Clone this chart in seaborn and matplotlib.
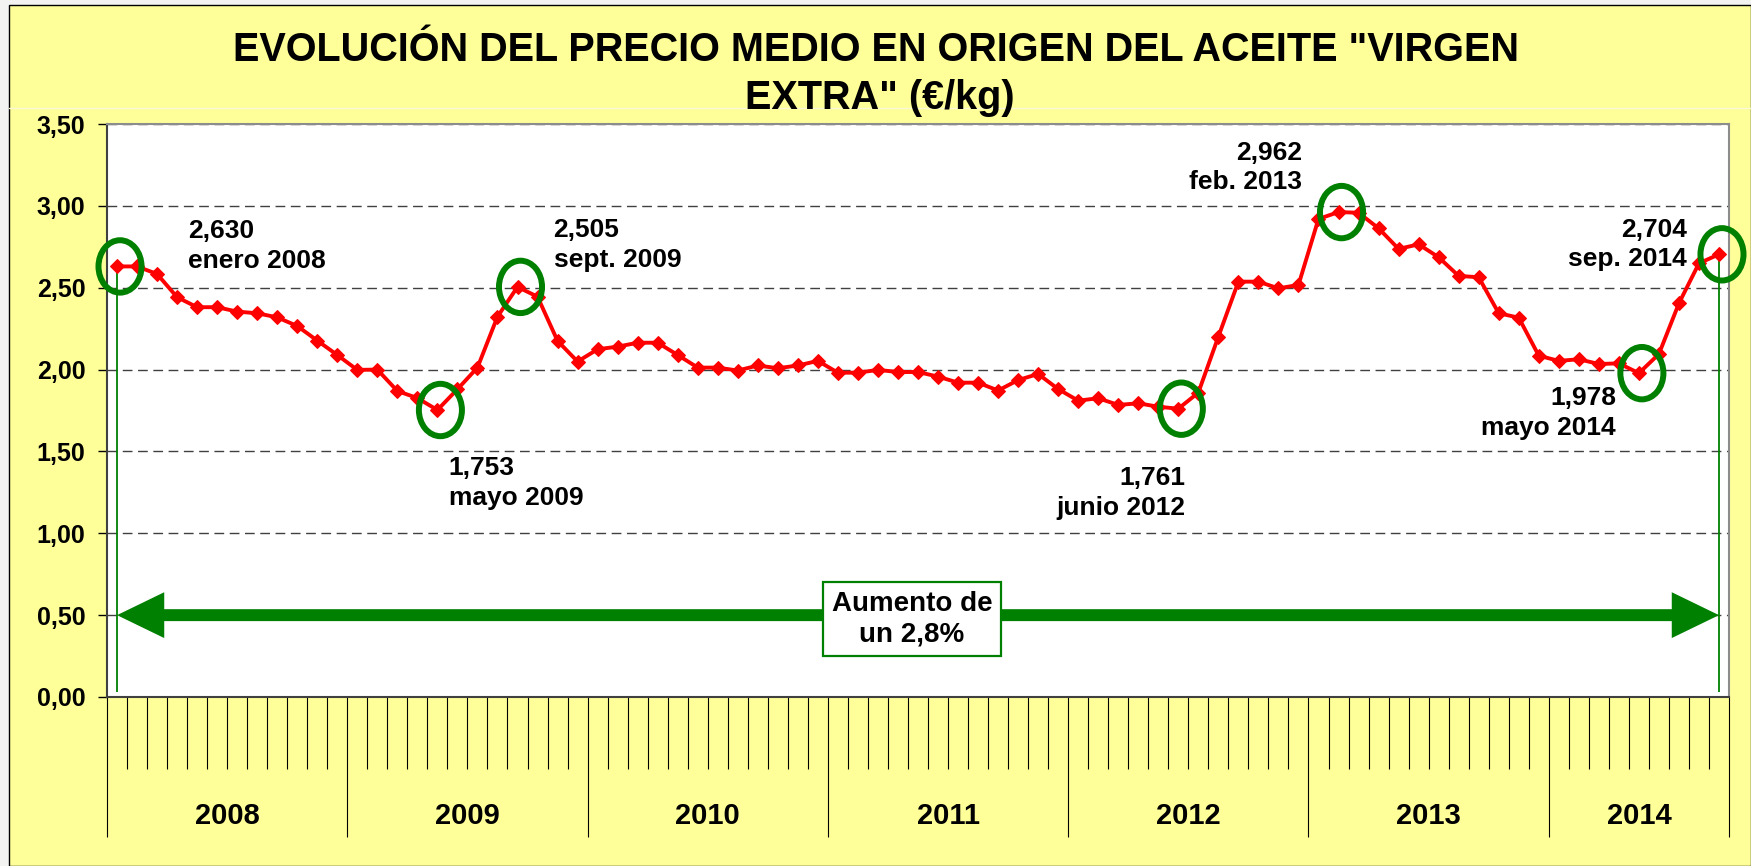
import numpy as np
import pandas as pd
import seaborn as sns
import matplotlib.pyplot as plt
from matplotlib.patches import Ellipse, Rectangle, FancyArrowPatch
from matplotlib.lines import Line2D

# monthly price, enero 2008 .. sep. 2014 (EUR/kg)
years = [2008, 2009, 2010, 2011, 2012, 2013, 2014]
months_per_year = [12, 12, 12, 12, 12, 12, 9]

precio = [
    2.630, 2.630, 2.584, 2.442, 2.381, 2.381, 2.354, 2.344, 2.319, 2.266, 2.177, 2.089,  # 2008
    1.998, 2.000, 1.869, 1.826, 1.753, 1.880, 2.012, 2.323, 2.505, 2.445, 2.175, 2.049,  # 2009
    2.124, 2.140, 2.164, 2.164, 2.089, 2.012, 2.012, 1.994, 2.025, 2.008, 2.025, 2.053,  # 2010
    1.981, 1.981, 1.998, 1.985, 1.985, 1.957, 1.920, 1.920, 1.872, 1.936, 1.973, 1.881,  # 2011
    1.810, 1.825, 1.784, 1.794, 1.773, 1.761, 1.859, 2.201, 2.537, 2.537, 2.496, 2.517,  # 2012
    2.920, 2.962, 2.958, 2.863, 2.737, 2.765, 2.686, 2.572, 2.564, 2.344, 2.317, 2.085,  # 2013
    2.053, 2.063, 2.034, 2.038, 1.978, 2.095, 2.405, 2.649, 2.704,                       # 2014
]

# highlighted months
destacados_idx = [0, 16, 20, 53, 61, 76, 80]
destacados_fecha = ["enero 2008", "mayo 2009", "sept. 2009", "junio 2012",
                    "feb. 2013", "mayo 2014", "sep. 2014"]
# label offsets (points) and alignment
destacados_offset = [(51, 14.5), (8, -52.5), (26, 30), (5, -60.5),
                     (-26, 32), (-16.5, -28.5), (-23, 7)]
destacados_ha = ["left", "left", "left", "right", "right", "right", "right"]

yticks = [0.0, 0.5, 1.0, 1.5, 2.0, 2.5, 3.0, 3.5]
ytick_labels = ["0,00", "0,50", "1,00", "1,50", "2,00", "2,50", "3,00", "3,50"]

titulo_1 = 'EVOLUCIÓN DEL PRECIO MEDIO EN ORIGEN DEL ACEITE "VIRGEN'
titulo_2 = 'EXTRA" (€/kg)'
texto_caja = "Aumento de\nun 2,8%"

df = pd.DataFrame({"mes": np.arange(len(precio)), "precio": precio})

sns.set_style("white")
plt.rcParams["font.family"] = ["Liberation Sans", "DejaVu Sans"]
plt.rcParams["text.color"] = "black"
plt.rcParams["ytick.color"] = "black"
plt.rcParams["xtick.color"] = "black"

W, H = 1751, 866
fig = plt.figure(figsize=(W / 100, H / 100), dpi=100)
fig.patch.set_facecolor("#F3F3F1")
fig.add_artist(Rectangle((9 / W, 0), 1 - 9 / W, 1 - 5 / H, transform=fig.transFigure,
                         facecolor="#FFFF99", edgecolor="black", linewidth=1, zorder=0))
fig.add_artist(Line2D([9 / W, 1], [1 - 108 / H] * 2, transform=fig.transFigure,
                      color="#F9F9D6", linewidth=1))

ax = fig.add_axes([107 / W, (H - 697) / H, (1729 - 107) / W, (697 - 124) / H])
ax.set_facecolor("white")

GREEN = "#008000"

# vertical marker lines at start and end
ax.vlines([0, 80], 0.03, [precio[0], precio[80]], color=GREEN, linewidth=1.3, zorder=2)

sns.lineplot(data=df, x="mes", y="precio", ax=ax, color="red", linewidth=2.8,
             marker="D", markersize=7, markeredgecolor="red", zorder=4)

# green circles + labels
for i, fecha, off, ha in zip(destacados_idx, destacados_fecha, destacados_offset, destacados_ha):
    v = precio[i]
    ax.add_patch(Ellipse((i + 0.15, v), width=2.15, height=0.32, fill=False,
                         edgecolor=GREEN, linewidth=4.3, zorder=5, clip_on=False))
    etiqueta = f"{v:.3f}".replace(".", ",") + "\n" + fecha
    ax.annotate(etiqueta, xy=(i, v), xytext=off, textcoords="offset points",
                ha=ha, va="center", fontsize=19, fontweight="bold",
                linespacing=1.3, multialignment=ha, zorder=6)

# double arrow at 0,50
cx, cy = 39.7, 0.475
for xend in (0, 80):
    ax.add_patch(FancyArrowPatch((cx, 0.5), (xend, 0.5),
                                 arrowstyle="simple,head_length=34,head_width=33,tail_width=8.6",
                                 mutation_scale=1, color=GREEN, linewidth=0,
                                 shrinkA=0, shrinkB=0, zorder=3))
ax.text(cx, cy, texto_caja, ha="center", va="center", fontsize=20, fontweight="bold",
        linespacing=1.2, zorder=7,
        bbox=dict(boxstyle="square,pad=0.33", facecolor="white", edgecolor=GREEN, linewidth=1.6))

# axes
ax.set_xlim(-0.5, len(precio) - 0.5)
ax.set_ylim(0, 3.5)
ax.set_yticks(yticks)
ax.set_yticklabels(ytick_labels, fontsize=18, fontweight="bold")
ax.tick_params(axis="y", direction="out", length=6.5, width=1, color="black", pad=9, left=True)
ax.yaxis.grid(True, linestyle=(0, (7, 4)), color="#404040", linewidth=1)
ax.set_axisbelow(True)
ax.set_xlabel("")
ax.set_ylabel("")

# multilevel category axis: month ticks + year separators
limites = np.concatenate([[0], np.cumsum(months_per_year)]) - 0.5
ax.set_xticks(limites)
ax.set_xticklabels([])
meses_lim = [b for b in np.arange(len(precio) + 1) - 0.5 if b not in limites]
ax.set_xticks(meses_lim, minor=True)
ax.tick_params(axis="x", which="major", direction="out", length=101, width=0.8, color="black", bottom=True)
ax.tick_params(axis="x", which="minor", direction="out", length=52, width=0.8, color="black", bottom=True)
for y0, y1, yr in zip(limites[:-1], limites[1:], years):
    ax.text((y0 + y1) / 2, -(816 - 697) / (697 - 124), str(yr), transform=ax.get_xaxis_transform(),
            ha="center", va="center", fontsize=21, fontweight="bold")

for s in ["left", "bottom"]:
    ax.spines[s].set_color("#404040")
    ax.spines[s].set_linewidth(1.5)
for s in ["top", "right"]:
    ax.spines[s].set_color("#8C8C8C")
    ax.spines[s].set_linewidth(1.5)

fig.text(876 / W, 1 - 50 / H, titulo_1, ha="center", va="center", fontsize=28.5, fontweight="bold")
fig.text(880 / W, 1 - 98 / H, titulo_2, ha="center", va="center", fontsize=28.5, fontweight="bold")

fig.savefig("out.png", dpi=100, facecolor=fig.get_facecolor())
